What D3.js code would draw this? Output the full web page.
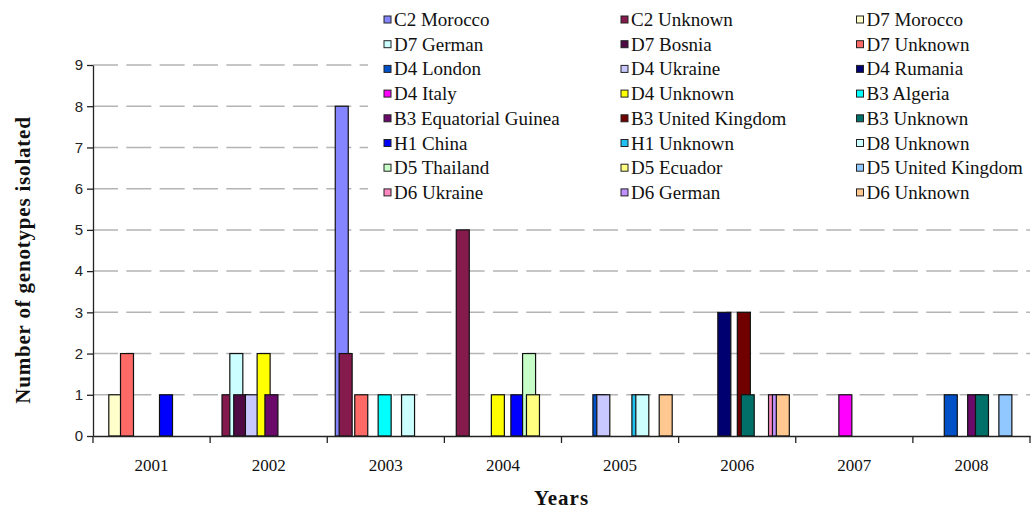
<!DOCTYPE html>
<html>
<head>
<meta charset="utf-8">
<script src="https://cdn.jsdelivr.net/npm/d3@7"></script>
<style>
  html, body { margin: 0; padding: 0; background: #fff; }
  svg { display: block; }
</style>
</head>
<body>
<svg id="chart" width="1034" height="510"></svg>
<script>
// Genotypes isolated per year, one bar per genotype/origin series
const years = ["2001", "2002", "2003", "2004", "2005", "2006", "2007", "2008"];

const seriesNames = [
  "C2 Morocco", "C2 Unknown", "D7 Morocco",
  "D7 German", "D7 Bosnia", "D7 Unknown",
  "D4 London", "D4 Ukraine", "D4 Rumania",
  "D4 Italy", "D4 Unknown", "B3 Algeria",
  "B3 Equatorial Guinea", "B3 United Kingdom", "B3 Unknown",
  "H1 China", "H1 Unknown", "D8 Unknown",
  "D5 Thailand", "D5 Ecuador", "D5 United Kingdom",
  "D6 Ukraine", "D6 German", "D6 Unknown"
];

const seriesColors = [
  "#8585ff", "#851a4d", "#ffffcc",
  "#ccffff", "#4f0a45", "#ff6a66",
  "#0050c8", "#c8c8ff", "#000070",
  "#ff00ff", "#ffff00", "#00ffff",
  "#6a0a6a", "#700000", "#007068",
  "#0000ff", "#20c0f0", "#ccffff",
  "#c8ffc8", "#ffff80", "#90c8ff",
  "#ff88c0", "#c090ff", "#ffc890"
];

// Counts per year, in series order
const counts2001 = [0,0,1, 0,0,2, 0,0,0, 0,0,0, 0,0,0, 1,0,0, 0,0,0, 0,0,0];
const counts2002 = [0,1,0, 2,1,0, 0,1,0, 0,2,0, 1,0,0, 0,0,0, 0,0,0, 0,0,0];
const counts2003 = [8,2,0, 0,0,1, 0,0,0, 0,0,1, 0,0,0, 0,0,1, 0,0,0, 0,0,0];
const counts2004 = [0,5,0, 0,0,0, 0,0,0, 0,1,0, 0,0,0, 1,0,0, 2,1,0, 0,0,0];
const counts2005 = [0,0,0, 0,0,0, 1,1,0, 0,0,0, 0,0,0, 0,1,1, 0,0,0, 0,0,1];
const counts2006 = [0,0,0, 0,0,0, 0,0,3, 0,0,0, 0,3,1, 0,0,0, 0,0,0, 1,1,1];
const counts2007 = [0,0,0, 0,0,0, 0,0,0, 1,0,0, 0,0,0, 0,0,0, 0,0,0, 0,0,0];
const counts2008 = [0,0,0, 0,0,0, 1,0,0, 0,0,0, 1,0,1, 0,0,0, 0,0,1, 0,0,0];

const countsByYear = [counts2001, counts2002, counts2003, counts2004,
                      counts2005, counts2006, counts2007, counts2008];

const yTicks = [0, 1, 2, 3, 4, 5, 6, 7, 8, 9];

// ---- layout ----
const plot = { left: 93, right: 1030, top: 65, bottom: 436 };
const barStep = 3.9;      // bars overlap heavily within a year
const barWidth = 13;
const groupInset = 7.4;

const svg = d3.select("#chart");

const x0 = d3.scaleBand().domain(years).range([plot.left, plot.right]).padding(0);
const x1 = d3.scalePoint().domain(seriesNames)
  .range([groupInset, groupInset + barStep * (seriesNames.length - 1)]);
const y = d3.scaleLinear().domain([0, 9]).range([plot.bottom, plot.top]);
const color = d3.scaleOrdinal().domain(seriesNames).range(seriesColors);

// dashed horizontal gridlines
svg.append("g")
  .selectAll("line")
  .data(yTicks.filter(v => v > 0))
  .join("line")
  .attr("x1", plot.left)
  .attr("x2", plot.right)
  .attr("y1", d => y(d))
  .attr("y2", d => y(d))
  .attr("stroke", "#b4b4b4")
  .attr("stroke-width", 1.5)
  .attr("stroke-dasharray", "25,8.33");

// bars: one layer per series, later series drawn on top
const barLayer = svg.append("g");
seriesNames.forEach((name, si) => {
  const rows = years.map((yr, yi) => ({ year: yr, value: countsByYear[yi][si] }))
    .filter(d => d.value > 0);
  barLayer.append("g")
    .selectAll("rect")
    .data(rows)
    .join("rect")
    .attr("x", d => x0(d.year) + x1(name) + 0.6)
    .attr("y", d => y(d.value))
    .attr("width", barWidth)
    .attr("height", d => y(0) - y(d.value))
    .attr("fill", color(name))
    .attr("stroke", "#111")
    .attr("stroke-width", 1.2);
});

// y axis
const yAxis = svg.append("g")
  .attr("transform", `translate(${plot.left},0)`)
  .call(d3.axisLeft(y).tickValues(yTicks).tickSize(6).tickSizeOuter(0).tickPadding(4));
yAxis.select(".domain").attr("stroke", "#222").attr("stroke-width", 1.3);
yAxis.selectAll(".tick line").attr("stroke", "#222").attr("stroke-width", 1.3);
yAxis.selectAll(".tick text")
  .attr("font-family", "'Liberation Sans', Arial, sans-serif")
  .attr("font-size", 15)
  .attr("fill", "#222");

// x axis: line, boundary ticks, year labels
const xAxis = svg.append("g")
  .attr("transform", `translate(0,${plot.bottom})`)
  .call(d3.axisBottom(x0).tickSize(0).tickPadding(0));
xAxis.select(".domain").attr("stroke", "#222").attr("stroke-width", 1.3);
xAxis.selectAll(".tick text")
  .attr("y", 35)
  .attr("dy", 0)
  .attr("font-family", "'Liberation Serif', 'Times New Roman', serif")
  .attr("font-size", 17)
  .attr("fill", "#111");

const boundaries = years.map(yr => x0(yr)).concat([x0.range()[1]]);
xAxis.append("g")
  .selectAll("line")
  .data(boundaries)
  .join("line")
  .attr("x1", d => d).attr("x2", d => d)
  .attr("y1", 0).attr("y2", 7)
  .attr("stroke", "#222")
  .attr("stroke-width", 1.3);

// axis titles
svg.append("text")
  .attr("x", (plot.left + plot.right) / 2)
  .attr("y", 505)
  .attr("text-anchor", "middle")
  .attr("font-family", "'Liberation Serif', 'Times New Roman', serif")
  .attr("font-weight", "bold")
  .attr("font-size", 21)
  .attr("letter-spacing", 1)
  .attr("fill", "#111")
  .text("Years");

svg.append("text")
  .attr("transform", "translate(30,260) rotate(-90)")
  .attr("text-anchor", "middle")
  .attr("font-family", "'Liberation Serif', 'Times New Roman', serif")
  .attr("font-weight", "bold")
  .attr("font-size", 21)
  .attr("letter-spacing", 0.8)
  .attr("fill", "#111")
  .text("Number of genotypes isolated");

// legend: 3 columns x 8 rows on a white panel
const legendCols = [383.5, 620.5, 856];
const legendTop = 19.5;
const legendRowStep = 24.7;

const legend = svg.append("g");
legend.append("rect")
  .attr("x", 368).attr("y", 0)
  .attr("width", 1034 - 368).attr("height", 208)
  .attr("fill", "#fff");

const items = legend.selectAll("g.item")
  .data(seriesNames)
  .join("g")
  .attr("class", "item")
  .attr("transform", (d, i) =>
    `translate(${legendCols[i % 3]},${legendTop + Math.floor(i / 3) * legendRowStep})`);

items.append("rect")
  .attr("x", 0.5).attr("y", -3.5)
  .attr("width", 7).attr("height", 7)
  .attr("fill", d => color(d))
  .attr("stroke", "#222")
  .attr("stroke-width", 1);

items.append("text")
  .attr("x", 10.5)
  .attr("y", 6.5)
  .attr("font-family", "'Liberation Serif', 'Times New Roman', serif")
  .attr("font-size", 19)
  .attr("fill", "#111")
  .text(d => d);
</script>
</body>
</html>
